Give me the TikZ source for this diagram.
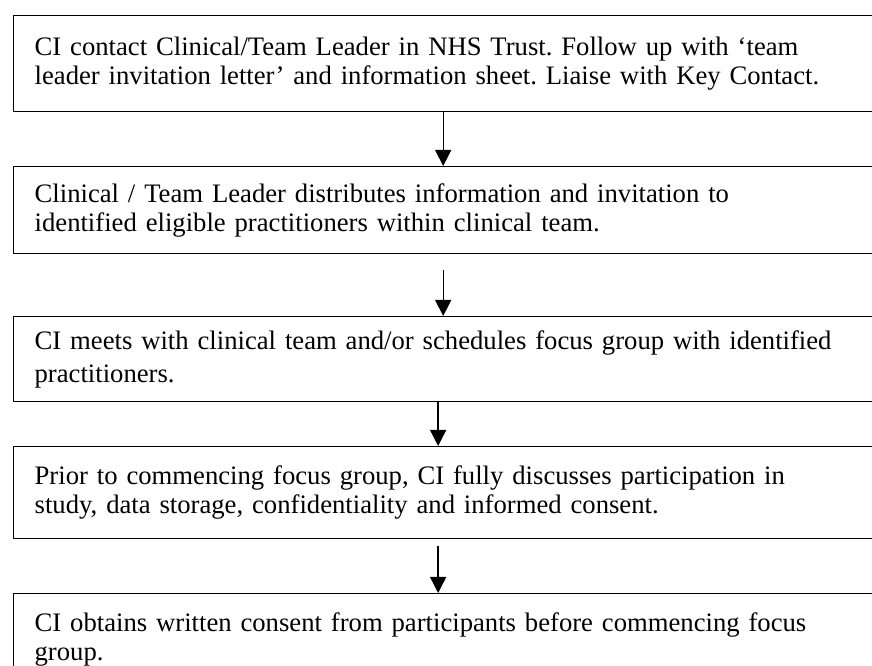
\documentclass[tikz,border=0pt]{standalone}
\usepackage{fontspec}
\setmainfont{Liberation Serif}
\usetikzlibrary{arrows.meta}

\begin{document}
\frenchspacing
\begin{tikzpicture}[
        x=0.75pt,
        y=-0.75pt,
        stage/.style={draw, line width=1pt, anchor=north west, align=left,
            text width=618pt, inner xsep=15.75pt, inner ysep=0pt,
            font=\fontsize{20}{22}\selectfont},
        flow/.style={line width=1pt, -{Triangle[width=12pt, length=12pt]}}
    ]
        \useasboundingbox (0,0) rectangle (872,666);
        \clip (0,0) rectangle (872,666);

        \node[stage, minimum height=72pt] (s1) at (13,15)
            {CI contact Clinical/Team Leader in NHS Trust. Follow up with ‘team\\
             leader invitation letter’ and information sheet. Liaise with Key Contact.};
        \node[stage, minimum height=65.25pt] (s2) at (13,166)
            {Clinical / Team Leader distributes information and invitation to\\
             identified eligible practitioners within clinical team.};
        \node[stage, minimum height=63.75pt] (s3) at (13,316)
            {CI meets with clinical team and/or schedules focus group with identified\\[3pt]
             practitioners.};
        \node[stage, minimum height=69pt] (s4) at (13,446)
            {Prior to commencing focus group, CI fully discusses participation in\\
             study, data storage, confidentiality and informed consent.};
        \node[stage, minimum height=68.25pt] (s5) at (13,593)
            {CI obtains written consent from participants before commencing focus\\
             group.};

        \draw[flow] ([xshift=-2.6pt]s1.south) -- ([xshift=-2.6pt]s2.north);
        \draw[flow, shorten <=12pt] ([xshift=-2.6pt]s2.south) -- ([xshift=-2.6pt]s3.north);
        \draw[flow] ([xshift=-6.4pt]s3.south) -- ([xshift=-6.4pt]s4.north);
        \draw[flow, shorten <=5.25pt] ([xshift=-6.4pt]s4.south) -- ([xshift=-6.4pt]s5.north);
    \end{tikzpicture}
\end{document}
